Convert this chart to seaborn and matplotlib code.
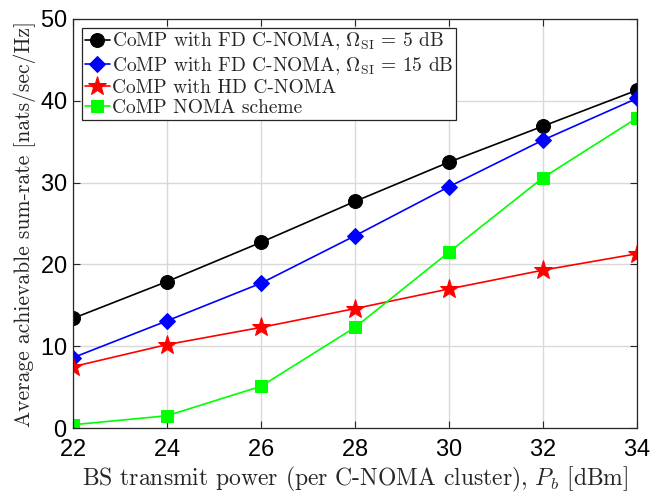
import matplotlib
matplotlib.use("Agg")
import matplotlib.pyplot as plt
import seaborn as sns
import pandas as pd

power_dbm = [22, 24, 26, 28, 30, 32, 34]
fd_si5 = [13.4, 17.9, 22.7, 27.7, 32.5, 36.9, 41.3]
fd_si15 = [8.6, 13.1, 17.7, 23.5, 29.5, 35.2, 40.3]
hd_cnoma = [7.5, 10.2, 12.3, 14.6, 17.0, 19.3, 21.3]
comp_noma = [0.4, 1.5, 5.1, 12.3, 21.5, 30.6, 37.9]

labels = [
    r"CoMP with FD C-NOMA, $\Omega_{\mathrm{SI}}\,=\,5$ dB",
    r"CoMP with FD C-NOMA, $\Omega_{\mathrm{SI}}\,=\,15$ dB",
    "CoMP with HD C-NOMA",
    "CoMP NOMA scheme",
]
series = [fd_si5, fd_si15, hd_cnoma, comp_noma]
colors = ["#000000", "#0000ff", "#ff0000", "#00ff00"]
markers = ["o", "D", "*", "s"]
msizes = [10, 8, 14, 8]

sns.set_theme(style="whitegrid")
plt.rcParams["font.family"] = ["cmr10", "DejaVu Serif"]
plt.rcParams["mathtext.fontset"] = "cm"
plt.rcParams["axes.formatter.use_mathtext"] = True

df = pd.concat(
    [pd.DataFrame({"P": power_dbm, "rate": v, "scheme": lab}) for v, lab in zip(series, labels)],
    ignore_index=True,
)

fig = plt.figure(figsize=(6.5, 4.97), dpi=100)
ax = fig.add_axes([0.1123, 0.1388, 0.8677, 0.823])

for lab, col, mk, ms in zip(labels, colors, markers, msizes):
    sub = df[df["scheme"] == lab]
    sns.lineplot(data=sub, x="P", y="rate", ax=ax, color=col, marker=mk,
                 markersize=ms, markeredgecolor=col, linewidth=1.2, label=lab)

ax.set_xlim(22, 34)
ax.set_ylim(0, 50)
ax.set_xticks(power_dbm)
ax.set_yticks([0, 10, 20, 30, 40, 50])
ax.grid(True, color="#d9d9d9", linewidth=1.0)
for s in ax.spines.values():
    s.set_color("#262626")
    s.set_linewidth(0.9)
ax.tick_params(axis="both", direction="in", length=5, width=0.8, colors="#262626",
               labelsize=17, labelcolor="black", top=True, right=True, bottom=True, left=True)
ax.tick_params(axis="x", pad=8)
ax.tick_params(axis="y", pad=4)
for t in ax.get_xticklabels() + ax.get_yticklabels():
    t.set_fontfamily("Liberation Sans")

ax.set_xlabel(r"BS transmit power (per C-NOMA cluster), $P_b$ [dBm]", fontsize=17, labelpad=3)
ax.set_ylabel("Average achievable sum-rate [nats/sec/Hz]", fontsize=15.5, labelpad=3)

leg = ax.legend(loc="upper left", fontsize=14, frameon=True, fancybox=False,
                edgecolor="#262626", framealpha=1, borderpad=0.15, labelspacing=0.12,
                handlelength=1.3, handletextpad=0.1, borderaxespad=0.45)
leg.get_frame().set_linewidth(0.9)

fig.savefig("out.png", dpi=100)
